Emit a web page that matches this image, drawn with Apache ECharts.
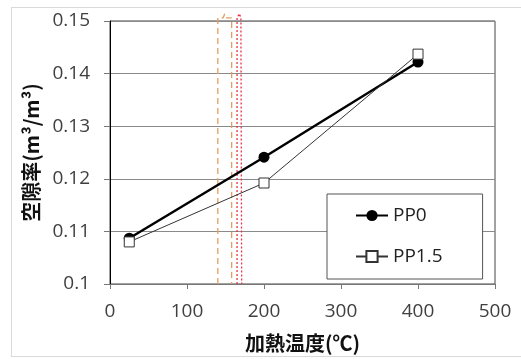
<!DOCTYPE html>
<html><head><meta charset="utf-8">
<script src="https://cdn.jsdelivr.net/npm/echarts@6/dist/echarts.min.js"></script>
<style>html,body{margin:0;padding:0;background:#fff}#c{width:521px;height:359px;}
#frame{position:absolute;left:11px;top:7px;width:520px;height:350px;border:1px solid #d9d9d9;box-sizing:border-box;pointer-events:none}</style>
</head><body>
<div id="c"></div><div id="frame"></div>
<script>
const temps = [25, 200, 400];
const pp0 = [0.1087, 0.1241, 0.1422];
const pp15 = [0.1080, 0.1192, 0.1437];
const seriesNames = ['PP0', 'PP1.5'];
const xTicks = [0, 100, 200, 300, 400, 500];
const yTicks = [0.1, 0.11, 0.12, 0.13, 0.14, 0.15];
const orangeRange = [140, 158];
const redRange = [165, 171];
const capLevel = 0.1506, capPeak = 0.1514;

function bracket(r) {
  const m = (r[0] + r[1]) / 2;
  return [[r[0], yTicks[0]], [r[0], capLevel], [m - 2, capLevel], [m, capPeak], [m + 2, capLevel], [r[1], capLevel], [r[1], yTicks[0]]];
}
const font = '"Open Sans", sans-serif';
const cjk = '"Noto Sans CJK JP", sans-serif';
const chart = echarts.init(document.getElementById('c'));
chart.setOption({
  animation: false,
  grid: { left: 110, right: 26, top: 21, bottom: 75, show: true, borderColor: '#444', borderWidth: 1 },
  xAxis: {
    type: 'value', min: xTicks[0], max: xTicks[xTicks.length - 1], interval: 100,
    name: '加熱温度(℃)', nameLocation: 'middle', nameGap: 49,
    nameTextStyle: { fontSize: 20, fontWeight: 'bold', color: '#111', fontFamily: cjk },
    axisLine: { show: true, lineStyle: { color: '#777' } },
    axisTick: { show: true, inside: false, length: 5, lineStyle: { color: '#777' } },
    axisLabel: { fontSize: 19, color: '#404040', margin: 18, fontFamily: font },
    splitLine: { show: false }
  },
  yAxis: {
    type: 'value', min: yTicks[0], max: yTicks[yTicks.length - 1], interval: 0.01,
    name: '空隙率(m³/m³)', nameLocation: 'middle', nameGap: 68,
    nameTextStyle: { fontSize: 20, fontWeight: 'bold', color: '#111', fontFamily: cjk },
    axisLine: { show: true, lineStyle: { color: '#000' } },
    axisTick: { show: true, length: 6, lineStyle: { color: '#777' } },
    axisLabel: { fontSize: 19, color: '#404040', margin: 20, fontFamily: font },
    splitLine: { show: true, lineStyle: { color: '#8a8a8a', width: 1 } }
  },
  legend: {
    orient: 'vertical', left: 327, top: 194,
    data: seriesNames,
    backgroundColor: '#fff', borderColor: '#555', borderWidth: 1,
    padding: [12, 40, 13, 28], itemGap: 22, itemWidth: 32, itemHeight: 14,
    textStyle: { fontSize: 19, color: '#222', fontFamily: font }
  },
  series: [
    { type: 'line', data: bracket(orangeRange), clip: false, silent: true, symbol: 'none', z: 1,
      lineStyle: { color: '#e0a060', width: 1.3, type: [6, 4] } },
    { type: 'line', data: bracket(redRange), clip: false, silent: true, symbol: 'none', z: 1,
      lineStyle: { color: '#e8344a', width: 1.3, type: [2, 2] } },
    { name: seriesNames[0], type: 'line', data: temps.map((t, i) => [t, pp0[i]]),
      symbol: 'circle', symbolSize: 11, z: 3,
      itemStyle: { color: '#000' }, lineStyle: { color: '#000', width: 2.5 } },
    { name: seriesNames[1], type: 'line', data: temps.map((t, i) => [t, pp15[i]]),
      symbol: 'rect', symbolSize: 10, z: 4,
      itemStyle: { color: '#fff', borderColor: '#333', borderWidth: 1 },
      lineStyle: { color: '#333', width: 1 } }
  ]
});
</script>
</body></html>
